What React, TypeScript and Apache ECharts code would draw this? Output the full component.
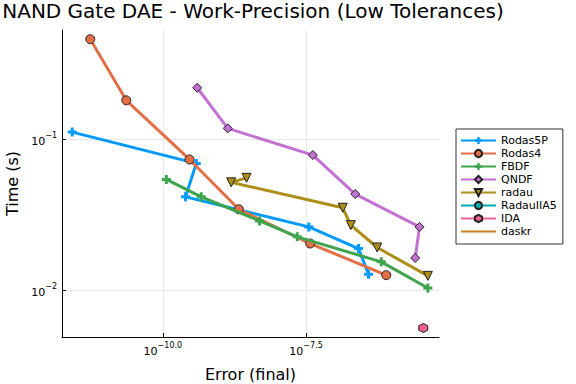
import React, { useEffect, useRef } from "react";
import * as echarts from "echarts";

const chartTitle = "NAND Gate DAE - Work-Precision (Low Tolerances)";
const xAxisName = "Error (final)";
const yAxisName = "Time (s)";

const seriesNames = ["Rodas5P", "Rodas4", "FBDF", "QNDF", "radau", "RadauIIA5", "IDA", "daskr"];
const seriesColors = ["#009AFA", "#E36F47", "#3EA44E", "#C371D2", "#AC8E18", "#00AAAE", "#ED5E93", "#C68225"];

const rodas5pError = [2.62e-12, 3.83e-10, 2.49e-10, 3.53e-8, 2.6e-7, 3.89e-7];
const rodas5pTime = [0.1117, 0.0693, 0.0416, 0.0263, 0.0189, 0.01276];

const rodas4Error = [5.41e-12, 2.3e-11, 2.92e-10, 2.12e-9, 3.73e-8, 7.93e-7];
const rodas4Time = [0.4613, 0.1816, 0.0736, 0.0344, 0.0204, 0.01259];

const fbdfError = [1.15e-10, 4.68e-10, 4.88e-9, 2.22e-8, 6.49e-7, 4.22e-6];
const fbdfTime = [0.0543, 0.0416, 0.0288, 0.0226, 0.01542, 0.01035];

const qndfError = [3.98e-10, 1.36e-9, 4.15e-8, 2.28e-7, 3.02e-6, 2.54e-6];
const qndfTime = [0.2198, 0.1183, 0.0787, 0.0434, 0.0263, 0.01637];

const radauError = [2.89e-9, 1.56e-9, 1.38e-7, 1.91e-7, 5.52e-7, 4.22e-6];
const radauTime = [0.0556, 0.0519, 0.0352, 0.027, 0.0192, 0.01245];

const radauIIA5Error: number[] = [];
const radauIIA5Time: number[] = [];

const idaError = [3.51e-6];
const idaTime = [0.00562];

const daskrError: number[] = [];
const daskrTime: number[] = [];

const xTickExponents = [-10, -7.5];
const yTickExponents = [-2, -1];

const FONT = "DejaVu Sans";

const CROSS = "path://M3,0H6V3H9V6H6V9H3V6H0V3H3Z";
const HEXAGON = "path://M5,0L9.33,2.5L9.33,7.5L5,10L0.67,7.5L0.67,2.5Z";

function toLog(xs: number[], ys: number[]) {
  return xs.map((x, i) => [Math.log10(x), Math.log10(ys[i])]);
}

function expText(v: number, digits: number) {
  const s = digits > 0 ? v.toFixed(digits) : String(Math.round(v));
  return s.replace("-", "\u2212");
}

export default function App() {
  const ref = useRef<HTMLDivElement>(null);
  useEffect(() => {
    if (!ref.current) return;
    const chart = echarts.init(ref.current, undefined, { renderer: "svg" });
    const rich = {
      b: { fontSize: 11, fontFamily: FONT, color: "#000", lineHeight: 16, verticalAlign: "bottom" },
      e: { fontSize: 8, fontFamily: FONT, color: "#000", lineHeight: 16, verticalAlign: "top" },
    };
    const marker = { borderColor: "#222", borderWidth: 1 };
    const defs = [
      { data: toLog(rodas5pError, rodas5pTime), symbol: CROSS, symbolSize: 9, border: false },
      { data: toLog(rodas4Error, rodas4Time), symbol: "circle", symbolSize: 9, border: true },
      { data: toLog(fbdfError, fbdfTime), symbol: CROSS, symbolSize: 9, border: false },
      { data: toLog(qndfError, qndfTime), symbol: "diamond", symbolSize: 9, border: true },
      { data: toLog(radauError, radauTime), symbol: "triangle", symbolSize: 9, border: true, rotate: 180 },
      { data: toLog(radauIIA5Error, radauIIA5Time), symbol: "circle", symbolSize: 9, border: true },
      { data: toLog(idaError, idaTime), symbol: HEXAGON, symbolSize: 9, border: true },
      { data: toLog(daskrError, daskrTime), symbol: "none", symbolSize: 0, border: false },
    ];
    const series = defs.map((d, i) => ({
      name: seriesNames[i],
      type: "line",
      data: d.data,
      symbol: d.symbol,
      symbolSize: d.symbolSize,
      symbolRotate: d.rotate || 0,
      showAllSymbol: true,
      lineStyle: { color: seriesColors[i], width: 3 },
      itemStyle: d.border ? { color: seriesColors[i], ...marker } : { color: seriesColors[i], borderWidth: 0 },
      emphasis: { disabled: true },
      z: 2 + i,
    }));
    const legendData = seriesNames.map((n, i) =>
      defs[i].symbol === "none" ? { name: n, itemStyle: { opacity: 0 } } : { name: n }
    );
    chart.setOption({
      animation: false,
      backgroundColor: "#fff",
      textStyle: { fontFamily: FONT },
      grid: { left: 62, top: 30, width: 377, height: 307, containLabel: false, outerBoundsMode: "none" },
      graphic: [
        {
          type: "text",
          x: 253,
          y: 11,
          style: {
            text: chartTitle,
            font: `20px "${FONT}"`,
            fill: "#000",
            textAlign: "center",
            textVerticalAlign: "middle",
          },
        },
      ],
      legend: {
        orient: "vertical",
        left: 456,
        top: 129,
        padding: [5, 6, 6, 4],
        borderColor: "#333",
        borderWidth: 1,
        borderRadius: 0,
        itemWidth: 35,
        itemHeight: 9,
        itemGap: 0,
        textStyle: { fontFamily: FONT, fontSize: 11, color: "#000", lineHeight: 13 },
        data: legendData,
      },
      xAxis: {
        type: "value",
        min: -11.76,
        max: -5.18,
        name: xAxisName,
        nameLocation: "middle",
        nameGap: 29,
        nameTextStyle: { fontFamily: FONT, fontSize: 16, color: "#000" },
        axisLine: { onZero: false, lineStyle: { color: "#000", width: 1 } },
        axisTick: { inside: true, length: 4, customValues: xTickExponents, lineStyle: { color: "#000" } },
        axisLabel: {
          customValues: xTickExponents,
          margin: 4,
          formatter: (v: number) => `{b|10}{e|${expText(v, 1)}}`,
          rich,
        },
        splitLine: { show: true, lineStyle: { color: "#e8e8e8", width: 1 } },
      },
      yAxis: {
        type: "value",
        min: -2.31,
        max: -0.275,
        name: yAxisName,
        nameLocation: "middle",
        nameGap: 42,
        nameTextStyle: { fontFamily: FONT, fontSize: 16, color: "#000" },
        axisLine: { onZero: false, lineStyle: { color: "#000", width: 1 } },
        axisTick: { inside: true, length: 4, customValues: yTickExponents, lineStyle: { color: "#000" } },
        axisLabel: {
          customValues: yTickExponents,
          margin: 5,
          formatter: (v: number) => `{b|10}{e|${expText(v, 0)}}`,
          rich,
        },
        splitLine: { show: true, lineStyle: { color: "#e8e8e8", width: 1 } },
      },
      series,
    });
    return () => chart.dispose();
  }, []);
  return <div ref={ref} style={{ position: "fixed", left: 0, top: 0, width: 576, height: 384 }} />;
}
